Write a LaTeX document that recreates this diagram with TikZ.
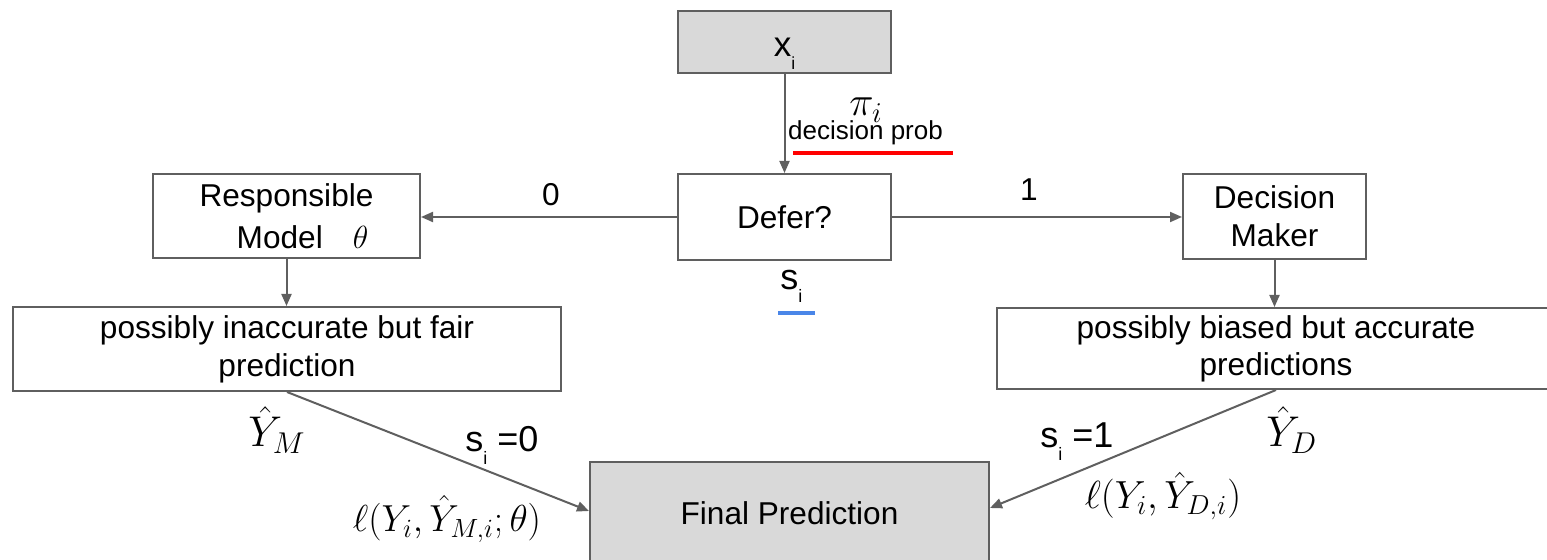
\documentclass[tikz,border=0pt]{standalone}
\usepackage{fix-cm}
\usepackage[no-math]{fontspec}
\setmainfont{Liberation Sans}
\usepackage{graphicx}
\usetikzlibrary{arrows.meta}

\definecolor{edgegray}{HTML}{5F5F5F}
\definecolor{boxfill}{HTML}{D9D9D9}
\definecolor{probred}{HTML}{FF0000}
\definecolor{sblue}{HTML}{4A86E8}

% lowered small index, as in "s_i"
\newcommand{\gsub}[1]{\raisebox{-0.35em}{\scalebox{0.5}{#1}}}

\begin{document}
\begin{tikzpicture}[x=0.5pt,y=-0.5pt,
  box/.style={draw=edgegray,line width=1pt,inner sep=0pt,align=center,
              font=\fontsize{15.8}{19}\selectfont},
  greybox/.style={box,fill=boxfill},
  link/.style={draw=edgegray,line width=1pt,-{Triangle[length=6pt,width=5pt]}},
  lbl/.style={inner sep=0pt,font=\fontsize{15.8}{19}\selectfont},
  slbl/.style={inner sep=0pt,font=\fontsize{18}{21}\selectfont},
  mathlbl/.style={inner sep=0pt,font=\fontsize{21.5}{24}\selectfont},
]
\clip (0,0) rectangle (1547,560);

% boxes
\node[greybox, minimum width=106.5pt, minimum height=31pt,
      text height=15pt, text depth=0pt, font=\fontsize{17.5}{20}\selectfont]
      (xi) at (784.5,42) {x\gsub{i}};
\node[box, minimum width=106.5pt, minimum height=43pt] (defer) at (784.5,217) {Defer?};
\node[box, minimum width=133.5pt, minimum height=42pt, font=\fontsize{15.8}{21}\selectfont]
      (rm) at (286.5,216) {Responsible\\\hspace*{16pt}Model\hspace{15pt}{\fontsize{16}{19}\selectfont$\theta$}};
\node[box, minimum width=91.5pt, minimum height=42.5pt] (dm) at (1274.5,216.5) {Decision\\Maker};
\node[box, minimum width=274pt, minimum height=42pt] (lp) at (287,349)
      {possibly inaccurate but fair\\prediction};
\node[box, minimum width=279pt, minimum height=40.5pt, font=\fontsize{15.8}{18.5}\selectfont]
      (rp) at (1276,348.5) {possibly biased but accurate\\predictions};
\node[greybox, minimum width=199.5pt, minimum height=51pt] (fp) at (789.5,513) {Final Prediction};

% connectors
\draw[link] (xi.south) -- (defer.north);
\draw[link] (defer.west) -- (defer.west -| rm.east);
\draw[link] (defer.east) -- (defer.east -| dm.west);
\draw[link] (rm.south) -- (rm.south |- lp.north);
\draw[link] (dm.south) -- (dm.south |- rp.north);
\draw[link] (lp.south) -- ([yshift=1pt]fp.west);
\draw[link] (rp.south) -- ([yshift=2.5pt]fp.east);

% branch labels
\node[lbl] (zero) at (551,195) {0};
\node[lbl] (one) at (1029,190) {1};

% defer probability and decision
\node[mathlbl, font=\fontsize{20.5}{24}\selectfont, anchor=base west] (pi) at (849,116) {$\pi_i$};
\node[lbl, font=\fontsize{13}{15}\selectfont, anchor=base] (dp) at (865.5,140) {decision prob};
\draw[probred, line width=1.75pt] (793,153) -- (953,153);
\node[slbl, anchor=base west] (s) at (780,290) {s\gsub{i}};
\draw[sblue, line width=1.75pt] (778,313) -- (815,313);

% outcome labels
\node[slbl, anchor=base west] (s0) at (465,452) {s\gsub{i} =0};
\node[slbl, anchor=base west] (s1) at (1040,448) {s\gsub{i} =1};
\node[mathlbl, anchor=base west] (ym) at (248,447) {$\hat{Y}_{M}$};
\node[mathlbl, anchor=base west] (yd) at (1266,447) {$\hat{Y}_{D}$};
\node[mathlbl, font=\fontsize{18.8}{22}\selectfont] (lm) at (447,519) {$\ell(Y_i,\hat{Y}_{M,i};\theta)$};
\node[mathlbl, font=\fontsize{19.6}{23}\selectfont] (ld) at (1163,496) {$\ell(Y_i,\hat{Y}_{D,i})$};
\end{tikzpicture}
\end{document}
